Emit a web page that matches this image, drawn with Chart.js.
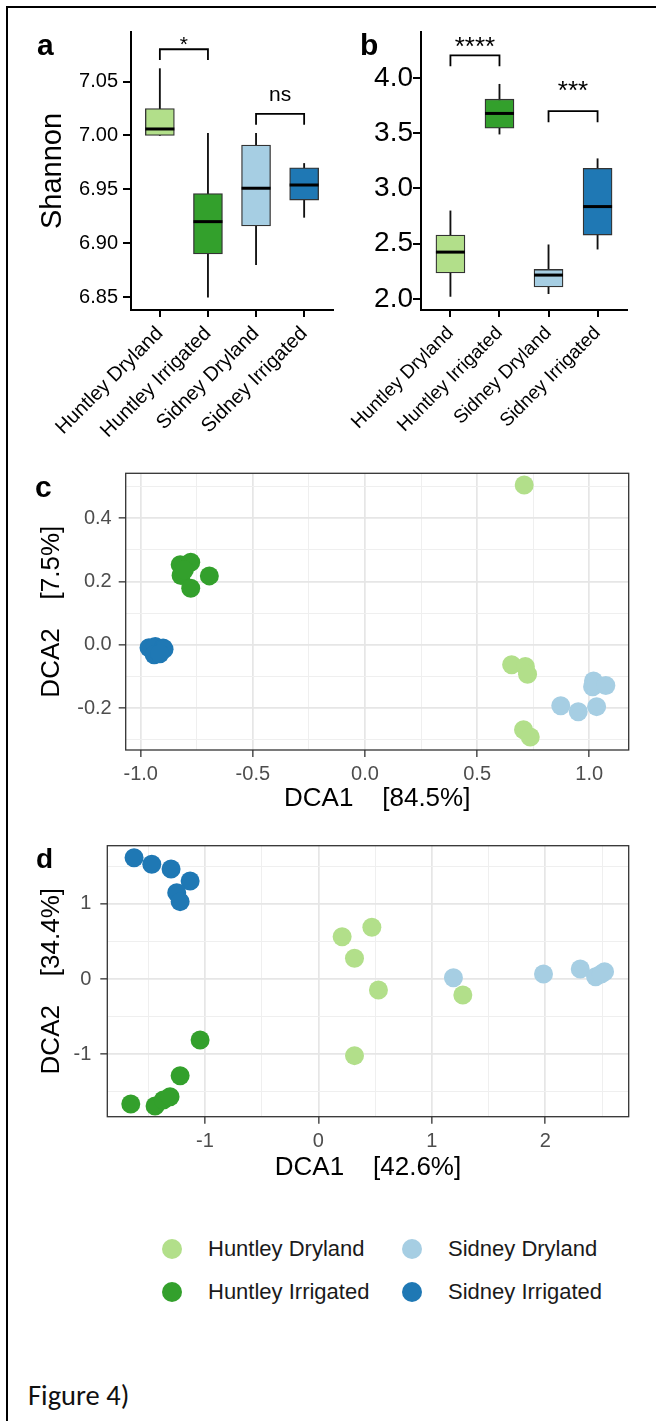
<!DOCTYPE html>
<html>
<head>
<meta charset="utf-8">
<script src="https://cdn.jsdelivr.net/npm/chart.js@4.4.1/dist/chart.umd.min.js"></script>
<style>
  html, body { margin: 0; padding: 0; background: #fff; }
  body { width: 656px; height: 1421px; position: relative; overflow: hidden;
         font-family: "Liberation Sans", Arial, Helvetica, sans-serif; }
  .rule-top { position: absolute; left: 6px; top: 6px; width: 650px; height: 2px; background: #000; }
  .rule-left { position: absolute; left: 6px; top: 6px; width: 2px; height: 1415px; background: #000; }
  canvas { position: absolute; }
  .tag { position: absolute; font-weight: bold; font-size: 30px; line-height: 30px; color: #000; }
  .dot { position: absolute; width: 20px; height: 20px; border-radius: 50%; }
  .leg { position: absolute; font-size: 22px; line-height: 22px; color: #1a1a1a; white-space: nowrap; }
  .caption { position: absolute; left: 28px; top: 1382px; font-family: Carlito, Calibri, "Open Sans", sans-serif;
             font-size: 28.5px; line-height: 28px; color: #111; white-space: nowrap; }
</style>
</head>
<body>
<div class="rule-top"></div>
<div class="rule-left"></div>

<canvas id="chartA" width="320" height="430" style="left:20px;top:20px"></canvas>
<canvas id="chartB" width="310" height="430" style="left:340px;top:20px"></canvas>
<canvas id="chartC" width="630" height="360" style="left:20px;top:460px"></canvas>
<canvas id="chartD" width="630" height="360" style="left:20px;top:830px"></canvas>

<div class="tag" style="left:37px;top:30px">a</div>
<div class="tag" style="left:360px;top:30px">b</div>
<div class="tag" style="left:35px;top:472px">c</div>
<div class="tag" style="left:36px;top:845px;font-size:28px;line-height:28px">d</div>

<div id="legend"></div>
<div class="caption">Figure 4)</div>

<script>
// groups
const cats = ['Huntley Dryland', 'Huntley Irrigated', 'Sidney Dryland', 'Sidney Irrigated'];
const catX = [1, 2, 3, 4];
const colors = ['#B2DF8A', '#33A02C', '#A6CEE3', '#1F78B4'];

// a) Shannon (whisker low, Q1, median, Q3, whisker high)
const aLow  = [7.000, 6.850, 6.880, 6.924];
const aQ1   = [7.000, 6.890, 6.916, 6.940];
const aMed  = [7.006, 6.920, 6.951, 6.954];
const aQ3   = [7.025, 6.946, 6.991, 6.970];
const aHigh = [7.062, 7.002, 7.002, 6.974];
const aTicks = [6.85, 6.90, 6.95, 7.00, 7.05];
const aRange = [6.838, 7.096];
const aBrFrom = [1, 3];
const aBrTo = [2, 4];
const aBrY = [7.080, 7.020];
const aBrTip = [7.070, 7.010];
const aSig = ['*', 'ns'];
const aSigY = [7.078, 7.032];

// b) second index
const bLow  = [2.023, 3.492, 2.048, 2.451];
const bQ1   = [2.235, 3.546, 2.108, 2.578];
const bMed  = [2.424, 3.679, 2.216, 2.836];
const bQ3   = [2.578, 3.808, 2.267, 3.182];
const bHigh = [2.797, 3.943, 2.490, 3.269];
const bTicks = [2.0, 2.5, 3.0, 3.5, 4.0];
const bRange = [1.90, 4.416];
const bBrFrom = [1, 3];
const bBrTo = [2, 4];
const bBrY = [4.205, 3.699];
const bBrTip = [4.106, 3.600];
const bSig = ['****', '***'];
const bSigY = [4.211, 3.814];

// c) DCA, one x and one y list per group (same order as cats)
const cX = [
    [0.710, 0.654, 0.715, 0.725, 0.707, 0.737],
    [-0.824, -0.777, -0.820, -0.777, -0.694, -0.805],
    [0.873, 0.951, 1.033, 1.015, 1.019, 1.074],
    [-0.963, -0.935, -0.900, -0.896, -0.940, -0.915]
];
const cY = [
    [0.505, -0.063, -0.068, -0.093, -0.268, -0.291],
    [0.253, 0.261, 0.219, 0.179, 0.218, 0.237],
    [-0.192, -0.211, -0.195, -0.132, -0.114, -0.128],
    [-0.009, -0.005, -0.010, -0.014, -0.031, -0.028]
];
const cXRange = [-1.067, 1.176];
const cYRange = [-0.332, 0.542];
const cXMajor = [-1.0, -0.5, 0.0, 0.5, 1.0];
const cXMinor = [-0.75, -0.25, 0.25, 0.75];
const cYMajor = [-0.2, 0.0, 0.2, 0.4];
const cYMinor = [-0.3, -0.1, 0.1, 0.3, 0.5];

// d) DCA
const dX = [
    [0.209, 0.471, 0.318, 0.529, 1.273, 0.318],
    [-1.043, -1.219, -1.654, -1.440, -1.367, -1.308],
    [1.190, 1.984, 2.308, 2.443, 2.522, 2.493],
    [-1.625, -1.469, -1.299, -1.131, -1.249, -1.219]
];
const dY = [
    [0.564, 0.689, 0.276, -0.147, -0.213, -1.022],
    [-0.813, -1.289, -1.667, -1.693, -1.613, -1.569],
    [0.017, 0.067, 0.133, 0.031, 0.097, 0.067],
    [1.617, 1.529, 1.467, 1.307, 1.151, 1.031]
];
const dXRange = [-1.861, 2.735];
const dYRange = [-1.836, 1.777];
const dXMajor = [-1, 0, 1, 2];
const dXMinor = [-1.5, -0.5, 0.5, 1.5, 2.5];
const dYMajor = [-1, 0, 1];
const dYMinor = [-1.5, -0.5, 0.5, 1.5];

Chart.defaults.font.family = '"Liberation Sans", Arial, Helvetica, sans-serif';
Chart.defaults.color = '#000';
Chart.defaults.animation = false;
Chart.defaults.events = [];
Chart.defaults.plugins.legend.display = false;
Chart.defaults.plugins.tooltip.enabled = false;

// force the axis box to a fixed size so the plot area lands where the figure has it
function fixSize(size) {
    return (s) => {
        if (s.isHorizontal()) s.height = size; else s.width = size;
        s.paddingLeft = s.paddingRight = s.paddingTop = s.paddingBottom = 0;
    };
}

function boxPlot(id, low, q1, med, q3, high, range, yTicks, digits, brFrom, brTo, brY, brTip, sig, sigY, look) {
    const datasets = [
        {   // whiskers
            type: 'bar', order: 3,
            data: catX.map((x, i) => ({ x: x, y: [low[i], high[i]] })),
            backgroundColor: '#111', barThickness: 1.2
        },
        {   // boxes
            type: 'bar', order: 2,
            data: catX.map((x, i) => ({ x: x, y: [q1[i], q3[i]] })),
            backgroundColor: colors, borderColor: '#333', borderWidth: 1.3,
            borderSkipped: false, barThickness: 29
        },
        {   // medians
            type: 'scatter', order: 1,
            data: catX.map((x, i) => ({ x: x, y: med[i] })),
            pointStyle: 'line', pointRadius: 14.5, pointHoverRadius: 14.5,
            borderColor: '#000', pointBorderColor: '#000', pointBorderWidth: 3, borderWidth: 3
        }
    ];
    brFrom.forEach((f, i) => {
        datasets.push({
            type: 'line', order: 0,
            data: [{ x: f, y: brTip[i] }, { x: f, y: brY[i] }, { x: brTo[i], y: brY[i] }, { x: brTo[i], y: brTip[i] }],
            borderColor: '#000', borderWidth: 1.8, pointRadius: 0, fill: false, tension: 0
        });
    });

    const sigPlugin = {
        id: 'sig',
        afterDatasetsDraw(chart) {
            const { ctx, scales: { x, y } } = chart;
            ctx.save();
            ctx.fillStyle = '#000';
            ctx.font = look.sigSize + 'px ' + Chart.defaults.font.family;
            ctx.textAlign = 'center';
            ctx.textBaseline = 'alphabetic';
            sig.forEach((t, i) => {
                ctx.fillText(t, x.getPixelForValue((brFrom[i] + brTo[i]) / 2), y.getPixelForValue(sigY[i]));
            });
            ctx.restore();
        }
    };

    return new Chart(document.getElementById(id), {
        type: 'bar',
        data: { datasets: datasets },
        plugins: [sigPlugin],
        options: {
            responsive: false,
            devicePixelRatio: 1,
            layout: { padding: look.padding, autoPadding: false },
            datasets: { bar: { grouped: false } },
            scales: {
                x: {
                    type: 'linear', min: 0.4, max: 4.6, offset: false,
                    afterBuildTicks: (s) => { s.ticks = catX.map(v => ({ value: v })); },
                    afterFit: fixSize(look.xHeight),
                    ticks: {
                        callback: (v) => cats[catX.indexOf(v)],
                        autoSkip: false, minRotation: 45, maxRotation: 45,
                        font: { size: look.xFont }, color: '#000', padding: 5
                    },
                    grid: { offset: false, drawOnChartArea: false, color: '#000', lineWidth: 2, tickLength: 7 },
                    border: { color: '#000', width: 2 }
                },
                y: {
                    min: range[0], max: range[1],
                    afterBuildTicks: (s) => { s.ticks = yTicks.map(v => ({ value: v })); },
                    afterFit: fixSize(look.yWidth),
                    ticks: {
                        callback: (v) => v.toFixed(digits),
                        font: { size: look.yFont }, color: '#000', padding: look.yPad
                    },
                    grid: { drawOnChartArea: false, color: '#000', lineWidth: 2, tickLength: 8 },
                    border: { color: '#000', width: 2 },
                    title: {
                        display: !!look.title, text: look.title || '', color: '#000',
                        font: { size: 29 }, padding: { top: 16, bottom: 0 }
                    }
                }
            }
        }
    });
}

function near(list, v) { return list.some(m => Math.abs(m - v) < 1e-9); }

function dcaPlot(id, xs, ys, xRange, yRange, xMajor, xMinor, yMajor, yMinor, xDigits, yDigits, xTitle, yTitle, look) {
    const datasets = cats.map((c, g) => ({
        label: c,
        data: xs[g].map((v, j) => ({ x: v, y: ys[g][j] })),
        backgroundColor: colors[g],
        borderWidth: 0,
        pointRadius: 9.5,
        pointHoverRadius: 9.5
    }));

    const framePlugin = {
        id: 'frame',
        afterDatasetsDraw(chart) {
            const a = chart.chartArea;
            const ctx = chart.ctx;
            ctx.save();
            ctx.strokeStyle = '#333';
            ctx.lineWidth = 1.3;
            ctx.strokeRect(a.left, a.top, a.right - a.left, a.bottom - a.top);
            ctx.restore();
        }
    };

    function axis(range, major, minor, digits, title, size, titlePad, tickPad) {
        return {
            type: 'linear', min: range[0], max: range[1],
            afterBuildTicks: (s) => { s.ticks = major.concat(minor).sort((p, q) => p - q).map(v => ({ value: v })); },
            afterFit: fixSize(size),
            ticks: {
                autoSkip: false, maxRotation: 0,
                callback: (v) => near(major, v) ? v.toFixed(digits) : '',
                font: { size: 20 }, color: '#4D4D4D', padding: tickPad
            },
            grid: {
                color: (c) => (c.tick && near(major, c.tick.value)) ? '#E6E6E6' : '#EFEFEF',
                lineWidth: (c) => (c.tick && near(major, c.tick.value)) ? 1.7 : 1,
                tickColor: (c) => (c.tick && near(major, c.tick.value)) ? '#333' : 'rgba(0,0,0,0)',
                tickWidth: 1.3, tickLength: 7
            },
            border: { display: false },
            title: { display: true, text: title, color: '#000', font: { size: 26 }, padding: titlePad }
        };
    }

    return new Chart(document.getElementById(id), {
        type: 'scatter',
        data: { datasets: datasets },
        plugins: [framePlugin],
        options: {
            responsive: false,
            devicePixelRatio: 1,
            layout: { padding: look.padding, autoPadding: false },
            scales: {
                x: axis(xRange, xMajor, xMinor, xDigits, xTitle, look.xHeight, { top: 0, bottom: look.xTitlePad }, look.xTickPad),
                y: axis(yRange, yMajor, yMinor, yDigits, yTitle, look.yWidth, { top: 16, bottom: 0 }, look.yTickPad)
            }
        }
    });
}

boxPlot('chartA', aLow, aQ1, aMed, aQ3, aHigh, aRange, aTicks, 2, aBrFrom, aBrTo, aBrY, aBrTip, aSig, aSigY, {
    padding: { left: 0, top: 12, right: 7, bottom: 0 },
    xHeight: 140, yWidth: 111, xFont: 20, yFont: 20, yPad: 5, sigSize: 21, title: 'Shannon'
});

boxPlot('chartB', bLow, bQ1, bMed, bQ3, bHigh, bRange, bTicks, 1, bBrFrom, bBrTo, bBrY, bBrTip, bSig, bSigY, {
    padding: { left: 0, top: 12, right: 23, bottom: 0 },
    xHeight: 140, yWidth: 81, xFont: 19, yFont: 28, yPad: 0, sigSize: 26, title: ''
});

dcaPlot('chartC', cX, cY, cXRange, cYRange, cXMajor, cXMinor, cYMajor, cYMinor, 1, 1,
    'DCA1    [84.5%]', 'DCA2    [7.5%]', {
    padding: { left: 0, top: 13.3, right: 21.3, bottom: 0 },
    xHeight: 70, yWidth: 105.7, xTitlePad: 6, xTickPad: 5, yTickPad: 7
});

dcaPlot('chartD', dX, dY, dXRange, dYRange, dXMajor, dXMinor, dYMajor, dYMinor, 0, 0,
    'DCA1    [42.6%]', 'DCA2    [34.4%]', {
    padding: { left: 0, top: 15.7, right: 21.3, bottom: 0 },
    xHeight: 73.3, yWidth: 87.3, xTitlePad: 7, xTickPad: 6, yTickPad: 9
});

// legend: two columns, filled column by column
const legend = document.getElementById('legend');
const legCol = [172, 412];
const legText = [208, 448];
const legRow = [1249, 1292];
cats.forEach((c, i) => {
    const col = Math.floor(i / 2), row = i % 2;
    const dot = document.createElement('div');
    dot.className = 'dot';
    dot.style.left = (legCol[col] - 10) + 'px';
    dot.style.top = (legRow[row] - 10) + 'px';
    dot.style.background = colors[i];
    legend.appendChild(dot);
    const txt = document.createElement('div');
    txt.className = 'leg';
    txt.style.left = legText[col] + 'px';
    txt.style.top = (legRow[row] - 11) + 'px';
    txt.textContent = c;
    legend.appendChild(txt);
});
</script>
</body>
</html>
